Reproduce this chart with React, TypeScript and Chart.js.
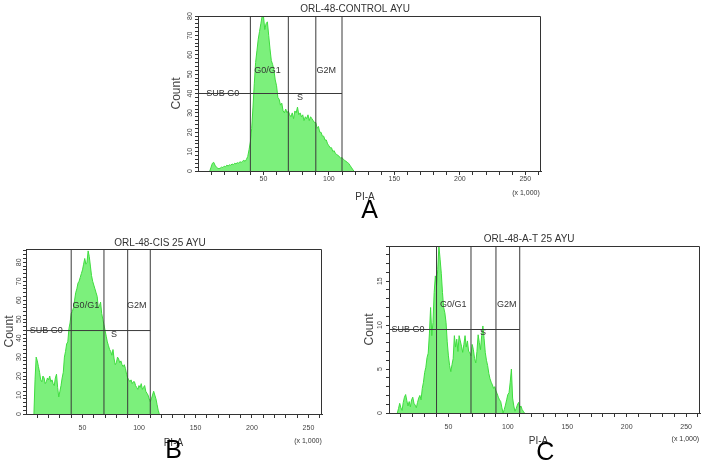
import React, { useEffect, useRef } from "react";
import { Chart, registerables } from "chart.js";

Chart.register(...registerables);

// ---------- shared axis data ----------
const X_MAX = 262;
const xTickValues = [10, 20, 30, 40, 50, 60, 70, 80, 90, 100, 110, 120, 130, 140, 150, 160, 170, 180, 190, 200, 210, 220, 230, 240, 250, 260];
const xTickLabels = [50, 100, 150, 200, 250];
const xUnitLabel = "(x 1,000)";
const xAxisTitle = "PI-A";
const yAxisTitle = "Count";
const gateNames = ["SUB G0", "G0/G1", "S", "G2M"];
const gateEdges = [40, 69, 90, 110];

// ---------- panel A ----------
const titleA = "ORL-48-CONTROL AYU";
const letterA = "A";
const binStartA = 9;
const countsA = [
  0, 2, 4, 4.5, 3, 2, 1.5, 1.2, 1.5, 2,
  1.8, 2.5, 2.2, 3, 2.6, 3.2, 3, 3.6, 3.3, 4,
  3.7, 4.3, 4, 4.8, 4.4, 5, 5.5, 5, 6, 7.5,
  11, 15, 22, 33, 45, 56, 62, 68, 72, 76,
  80, 80, 73, 76, 77, 70, 63, 57, 55, 52,
  47, 44, 38, 37, 34, 35, 31, 30, 32, 30,
  31, 29, 28, 30, 27, 31, 30, 33, 29, 30,
  28, 29, 26, 28, 27, 29, 26, 28, 27, 26,
  25, 25, 22, 23, 20, 20, 18, 18, 16, 16,
  14, 13, 12, 12, 10, 10.5, 9, 8.5, 8, 7.5,
  6.5, 7, 6, 5.5, 5, 4.5, 4, 3, 2, 1,
  0,
];
const yMaxA = 80;
const yMinorStepA = 2;
const yLabelTicksA = [0, 10, 20, 30, 40, 50, 60, 70, 80];
const gateLevelA = 40;
const gateLabelXA = [19, 53, 78, 98];
const gateLabelYA = [40, 52, 38, 52];

// ---------- panel B ----------
const titleB = "ORL-48-CIS 25 AYU";
const letterB = "B";
const binStartB = 7;
const countsB = [
  0, 18, 30, 28, 25, 22, 18, 17, 20, 19,
  16, 17, 19, 18, 20, 17, 18, 16, 15, 19,
  21, 14, 9, 12, 15, 19, 22, 30, 33, 37,
  38, 45, 48, 53, 54, 56, 60, 64, 66, 69,
  70, 72, 74, 76, 79, 82, 79, 80, 86, 83,
  78, 73, 70, 68, 66, 64, 62, 56, 57, 59,
  53, 50, 47, 44, 41, 38, 36, 34, 33, 31,
  34, 29, 26, 27, 30, 29, 27, 28, 26, 25,
  26, 24, 21, 19, 18, 17, 18, 16, 17, 17,
  15, 14, 13, 15, 14, 16, 13, 14, 15, 12,
  11, 10, 8, 6.5, 8, 10, 12, 10, 8, 5,
  2, 0,
];
const yMaxB = 87;
const yMinorStepB = 2;
const yLabelTicksB = [0, 10, 20, 30, 40, 50, 60, 70, 80];
const gateLevelB = 44;
const gateLabelXB = [18, 53, 78, 98];
const gateLabelYB = [44, 57, 42, 57];

// ---------- panel C ----------
const titleC = "ORL-48-A-T 25 AYU";
const letterC = "C";
const binStartC = 7;
const countsC = [
  0, 0.5, 1.1, 0.6, 0.3, 1.2, 1.8, 2.1, 1.4, 0.8,
  1.3, 0.7, 1.5, 1.8, 1.1, 0.9, 0.6, 1.2, 1.7, 2,
  1.5, 2.8, 3.5, 4.6, 5.2, 6.3, 6.8, 9, 12, 8.8,
  10.3, 13.7, 15.6, 14.5, 16.3, 19, 17.5, 15.9, 13.7, 12,
  11.4, 10.3, 8.1, 6.5, 5.4, 4.7, 5.5, 6.2, 8.8, 7.5,
  8.4, 7, 8.8, 8.2, 7.6, 6.9, 7.8, 8.8, 7.5, 8.2,
  7, 6.9, 6.5, 7.8, 7.2, 6.2, 5.7, 7, 8.9, 8,
  7.2, 8.8, 9.9, 8.5, 6.9, 6, 5.4, 4.5, 3.9, 3.5,
  3.2, 2.8, 3, 2.5, 2.2, 1.8, 1.5, 1.3, 0.6, 0,
  0.4, 0.9, 1.5, 2.1, 2.3, 3.5, 5, 1.7, 0.8, 0.2,
  0.5, 0.9, 1.2, 0.6, 0.8, 0.4, 0.2, 0,
];
const yMaxC = 19;
const yMinorStepC = 1;
const yLabelTicksC = [0, 5, 10, 15];
const gateLevelC = 9.5;
const gateLabelXC = [16, 54, 79, 99];
const gateLabelYC = [9.5, 12.3, 9.2, 12.3];

// ---------- styling ----------
const NARROW = '"Liberation Sans Narrow", "Liberation Sans", Arial, sans-serif';
const SANS = '"Liberation Sans", Arial, sans-serif';
const FILL = "#7cf07c";
const EDGE = "#3fdc3f";
const INK = "#333333";

type Panel = {
  title: string;
  letter: string;
  binStart: number;
  counts: number[];
  yMax: number;
  yMinorStep: number;
  yLabelTicks: number[];
  gateLevel: number;
  gateLabelX: number[];
  gateLabelY: number[];
  box: { left: number; top: number; w: number; h: number };
  pad: { left: number; top: number; right: number; bottom: number };
  yAxisW: number;
  xAxisH: number;
  xTickPad: number;
  yTickPad: number;
  txt: {
    titleRel: number; titleDy: number;
    piRel: number; piDy: number;
    unitDx: number; unitDy: number;
    countDx: number;
    letterRel: number; letterDy: number;
  };
};

const panels: Panel[] = [
  {
    title: titleA, letter: letterA, binStart: binStartA, counts: countsA,
    yMax: yMaxA, yMinorStep: yMinorStepA, yLabelTicks: yLabelTicksA,
    gateLevel: gateLevelA, gateLabelX: gateLabelXA, gateLabelY: gateLabelYA,
    box: { left: 160, top: 0, w: 390, h: 228 },
    pad: { left: 0, top: 16, right: 9, bottom: 27 },
    yAxisW: 38, xAxisH: 30, xTickPad: 0, yTickPad: 1,
    txt: { titleRel: 0.458, titleDy: 6, piRel: 0.487, piDy: 26, unitDx: 15, unitDy: 22, countDx: 21, letterRel: 0.5, letterDy: 40 },
  },
  {
    title: titleB, letter: letterB, binStart: binStartB, counts: countsB,
    yMax: yMaxB, yMinorStep: yMinorStepB, yLabelTicks: yLabelTicksB,
    gateLevel: gateLevelB, gateLabelX: gateLabelXB, gateLabelY: gateLabelYB,
    box: { left: 0, top: 228, w: 335, h: 242 },
    pad: { left: 0, top: 21, right: 13, bottom: 26 },
    yAxisW: 26, xAxisH: 30, xTickPad: 6, yTickPad: 0,
    txt: { titleRel: 0.453, titleDy: 5, piRel: 0.498, piDy: 29, unitDx: 14, unitDy: 27, countDx: 16, letterRel: 0.499, letterDy: 37 },
  },
  {
    title: titleC, letter: letterC, binStart: binStartC, counts: countsC,
    yMax: yMaxC, yMinorStep: yMinorStepC, yLabelTicks: yLabelTicksC,
    gateLevel: gateLevelC, gateLabelX: gateLabelXC, gateLabelY: gateLabelYC,
    box: { left: 360, top: 228, w: 344, h: 242 },
    pad: { left: 0, top: 18, right: 2, bottom: 27 },
    yAxisW: 29, xAxisH: 30, xTickPad: 6, yTickPad: 2,
    txt: { titleRel: 0.45, titleDy: 6, piRel: 0.48, piDy: 28, unitDx: 15, unitDy: 26, countDx: 19, letterRel: 0.502, letterDy: 40 },
  },
];

function makeDecor(p: Panel) {
  return {
    id: "decor",
    afterDraw(chart: any) {
      const { ctx, chartArea: ca, scales } = chart;
      const xs = scales.x;
      const ys = scales.y;
      ctx.save();
      // top and right frame
      ctx.strokeStyle = INK;
      ctx.lineWidth = 1;
      ctx.beginPath();
      const t = Math.floor(ca.top) + 0.5;
      const r = Math.round(ca.right) - 0.5;
      ctx.moveTo(ca.left, t);
      ctx.lineTo(r, t);
      ctx.lineTo(r, ca.bottom);
      ctx.stroke();

      // gate labels
      ctx.fillStyle = INK;
      ctx.textAlign = "center";
      ctx.textBaseline = "middle";
      ctx.font = `9px ${NARROW}`;
      gateNames.forEach((name, i) => {
        ctx.fillText(name, xs.getPixelForValue(p.gateLabelX[i]), ys.getPixelForValue(p.gateLabelY[i]));
      });

      // title
      ctx.font = `10px ${NARROW}`;
      ctx.textBaseline = "bottom";
      ctx.fillText(p.title, ca.left + ca.width * p.txt.titleRel, ca.top - p.txt.titleDy + 4);

      // x axis title
      ctx.textBaseline = "middle";
      ctx.font = `10px ${NARROW}`;
      ctx.fillText(xAxisTitle, ca.left + ca.width * p.txt.piRel, ca.bottom + p.txt.piDy);

      // unit
      ctx.font = `7px ${NARROW}`;
      ctx.fillText(xUnitLabel, ca.right - p.txt.unitDx, ca.bottom + p.txt.unitDy);

      // y axis title
      ctx.save();
      ctx.translate(ca.left - p.txt.countDx, (ca.top + ca.bottom) / 2);
      ctx.rotate(-Math.PI / 2);
      ctx.font = `12px ${SANS}`;
      ctx.fillStyle = "#444";
      ctx.fillText(yAxisTitle, 0, 0);
      ctx.restore();

      // panel letter
      ctx.font = `25px ${SANS}`;
      ctx.fillStyle = "#000";
      ctx.fillText(p.letter, ca.left + ca.width * p.txt.letterRel, ca.bottom + p.txt.letterDy);
      ctx.restore();
    },
  };
}

function buildConfig(p: Panel): any {
  const hist = p.counts.map((c, i) => ({ x: p.binStart + i, y: c }));
  const gateLine = { borderColor: "#3a3a3a", borderWidth: 1, pointRadius: 0, fill: false, order: 0 };
  const gateSets: any[] = gateEdges.map((g) => ({
    ...gateLine,
    data: [{ x: g, y: 0 }, { x: g, y: p.yMax }],
  }));
  gateSets.push({
    ...gateLine,
    data: [{ x: 0, y: p.gateLevel }, { x: gateEdges[gateEdges.length - 1], y: p.gateLevel }],
  });
  const yTicks: number[] = [];
  for (let v = 0; v <= p.yMax; v += p.yMinorStep) yTicks.push(v);

  return {
    type: "line",
    data: {
      datasets: [
        ...gateSets,
        {
          data: hist,
          borderColor: EDGE,
          borderWidth: 1,
          backgroundColor: FILL,
          fill: "origin",
          pointRadius: 0,
          tension: 0,
          order: 1,
        },
      ],
    },
    options: {
      responsive: false,
      animation: false,
      devicePixelRatio: 1,
      events: [],
      layout: { padding: p.pad },
      plugins: { legend: { display: false }, tooltip: { enabled: false }, title: { display: false } },
      scales: {
        x: {
          type: "linear",
          min: 0,
          max: X_MAX,
          bounds: "data",
          afterBuildTicks: (s: any) => {
            s.ticks = xTickValues.map((v) => ({ value: v }));
          },
          afterFit: (s: any) => {
            s.height = p.xAxisH;
          },
          ticks: {
            autoSkip: false,
            maxRotation: 0,
            padding: p.xTickPad,
            color: "#444",
            font: { family: NARROW, size: 7 },
            callback: (v: number) => (xTickLabels.includes(v) ? String(v) : ""),
          },
          grid: { drawOnChartArea: false, drawTicks: true, tickLength: 4, color: INK },
          border: { display: true, color: INK, width: 1 },
        },
        y: {
          type: "linear",
          min: 0,
          max: p.yMax,
          bounds: "data",
          afterBuildTicks: (s: any) => {
            s.ticks = yTicks.map((v) => ({ value: v }));
          },
          afterFit: (s: any) => {
            s.width = p.yAxisW;
          },
          ticks: {
            autoSkip: false,
            minRotation: 90,
            maxRotation: 90,
            crossAlign: "center",
            padding: p.yTickPad,
            color: "#444",
            font: { family: NARROW, size: 7 },
            callback: (v: number) => (p.yLabelTicks.includes(v) ? String(v) : ""),
          },
          grid: { drawOnChartArea: false, drawTicks: true, tickLength: 3, color: INK },
          border: { display: true, color: INK, width: 1 },
        },
      },
    },
    plugins: [makeDecor(p)],
  };
}

function PanelChart({ panel }: { panel: Panel }) {
  const ref = useRef<HTMLCanvasElement>(null);
  useEffect(() => {
    if (!ref.current) return;
    const chart = new Chart(ref.current, buildConfig(panel));
    return () => chart.destroy();
  }, [panel]);
  return (
    <canvas
      ref={ref}
      width={panel.box.w}
      height={panel.box.h}
      style={{
        position: "absolute",
        left: panel.box.left,
        top: panel.box.top,
        width: panel.box.w,
        height: panel.box.h,
      }}
    />
  );
}

export default function App() {
  return (
    <div style={{ position: "absolute", left: 0, top: 0, width: 704, height: 470, background: "#fff", overflow: "hidden" }}>
      {panels.map((p) => (
        <PanelChart key={p.title} panel={p} />
      ))}
    </div>
  );
}
